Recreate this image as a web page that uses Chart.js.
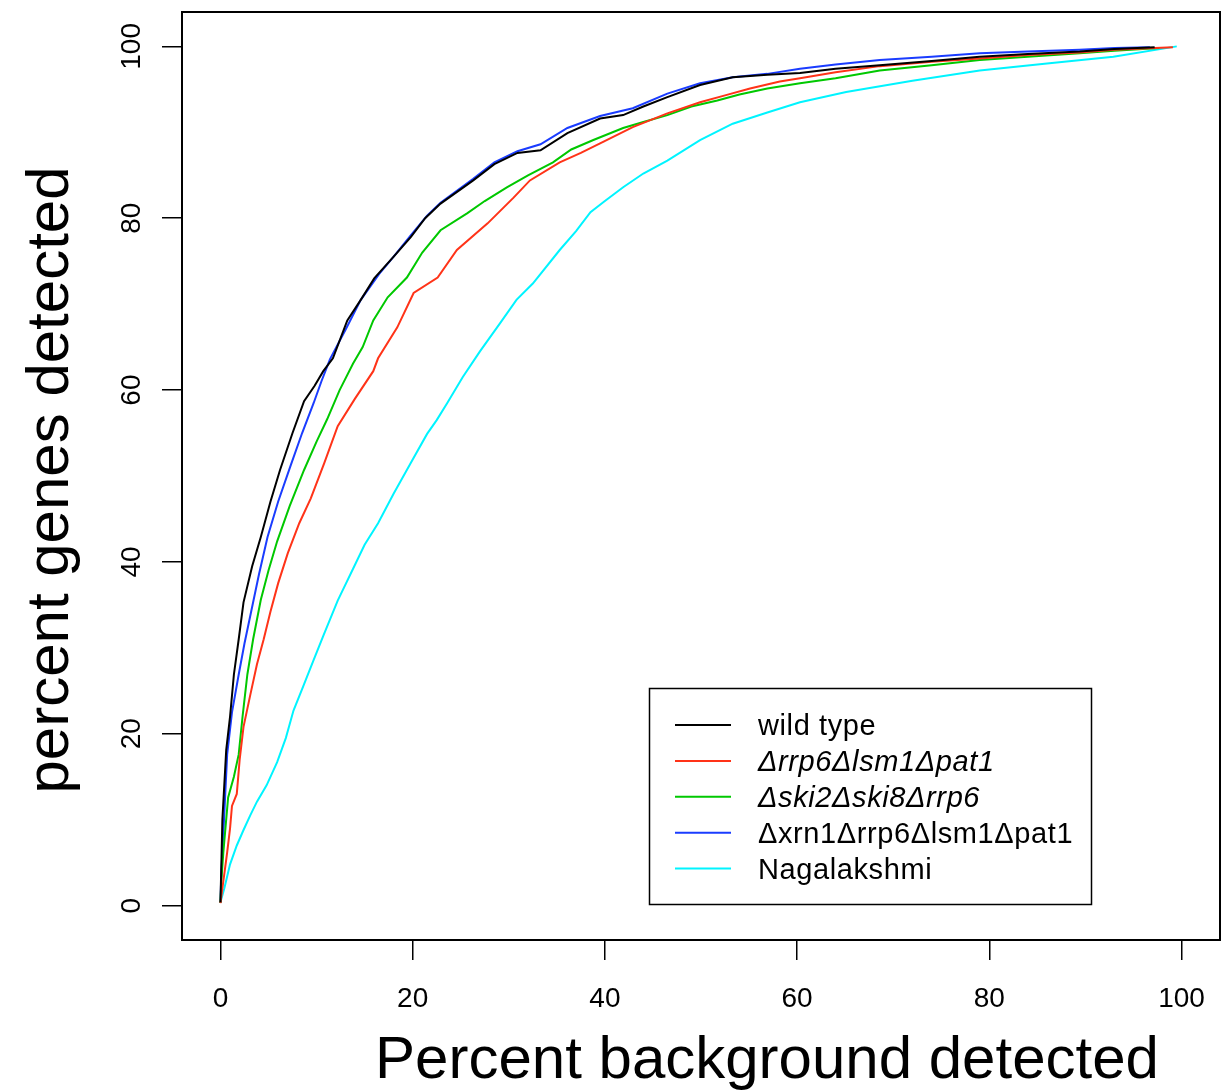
<!DOCTYPE html>
<html>
<head>
<meta charset="utf-8">
<title>Percent genes detected vs. percent background detected</title>
<script src="https://cdn.jsdelivr.net/npm/chart.js@4.4.1/dist/chart.umd.min.js"></script>
<style>
  html, body { margin: 0; padding: 0; background: #ffffff; }
  #wrap { width: 1232px; height: 1091px; }
</style>
</head>
<body>
<div id="wrap"><canvas id="c" width="1232" height="1091"></canvas></div>
<script>
// Cumulative detection curves: x = percent background detected, y = percent genes detected
const seriesNames = [
  'wild type',
  '\u0394rrp6\u0394lsm1\u0394pat1',
  '\u0394ski2\u0394ski8\u0394rrp6',
  '\u0394xrn1\u0394rrp6\u0394lsm1\u0394pat1',
  'Nagalakshmi'
];
const seriesItalic = [false, true, true, false, false];
const seriesColors = ['#000000', '#ff3318', '#00c800', '#1a3cff', '#00f4ff'];

const wildTypeX = [0, 0.1, 0.2, 0.35, 0.6, 1.0, 1.4, 1.9, 2.4, 3.3, 4.2, 5.2, 6.2, 7.5, 8.7, 9.8, 10.7, 11.7, 13.2, 14.6, 16, 18, 19.8, 21.3, 22.9, 26.3, 28.5, 30.9, 33.3, 36.1, 39.5, 41.9, 44, 46.5, 49.9, 53.3, 56.9, 60.3, 64, 68.6, 74, 79, 84, 89.4, 93, 97.2];
const wildTypeY = [0.4, 5, 10, 13, 18.1, 22, 26.9, 31, 35.3, 39.5, 42.9, 47, 50.7, 55, 58.7, 60.5, 62.2, 63.7, 68.1, 70.5, 73, 75.5, 77.8, 80, 81.7, 84.4, 86.3, 87.6, 87.9, 89.9, 91.6, 92.0, 93, 94.1, 95.5, 96.4, 96.7, 96.9, 97.4, 97.8, 98.3, 98.8, 99.1, 99.4, 99.7, 99.9];

const rrp6lsm1pat1X = [0, 0.2, 0.5, 0.7, 1.0, 1.2, 1.7, 2.0, 2.4, 3.1, 3.8, 4.5, 5.2, 6.0, 7.0, 8.2, 9.4, 10.8, 12.2, 14, 15.9, 16.4, 18.4, 20.1, 22.6, 24.6, 27.8, 30.5, 32.2, 35.3, 37.5, 39.5, 42.9, 46.5, 49.9, 52.5, 55.1, 58.2, 60.3, 64, 68.6, 74, 79, 84, 89.4, 93, 99.1];
const rrp6lsm1pat1Y = [0.3, 2, 4.5, 6.2, 9, 11.6, 13, 17, 20.8, 24.5, 28.1, 31, 34.2, 37.5, 41.0, 44.5, 47.4, 51.5, 55.8, 59, 62.2, 63.7, 67.3, 71.3, 73.1, 76.3, 79.4, 82.4, 84.4, 86.5, 87.6, 88.7, 90.6, 92.2, 93.5, 94.3, 95.1, 95.9, 96.3, 97, 97.7, 98.2, 98.6, 99.0, 99.3, 99.6, 99.9];

const ski2ski8rrp6X = [0, 0.1, 0.3, 0.8, 1.4, 1.9, 2.3, 2.8, 3.4, 4.2, 5.0, 5.9, 7.2, 8.7, 10, 11.1, 12.4, 13.8, 14.8, 15.9, 17.4, 19.4, 21, 22.9, 25.7, 27.5, 29.8, 32, 34.6, 36.5, 38.8, 41.9, 44, 46.5, 49, 51.7, 54, 56.9, 60.3, 64, 68.6, 74, 79, 84, 89.4, 93, 97.7];
const ski2ski8rrp6Y = [0.3, 3, 6.2, 12.6, 15, 17.6, 22, 26.9, 31, 35.6, 39, 42.4, 46.5, 50.7, 54, 56.6, 60, 63.1, 65, 68.1, 70.8, 73.1, 76, 78.6, 80.6, 82, 83.6, 85, 86.5, 88, 89.1, 90.5, 91.2, 92.0, 93, 93.7, 94.4, 95.1, 95.7, 96.3, 97.2, 97.8, 98.4, 98.8, 99.2, 99.5, 99.8];

const xrn1rrp6lsm1pat1X = [0, 0.1, 0.3, 0.5, 0.7, 1.2, 1.9, 2.5, 3.1, 4.0, 4.9, 6.0, 7.3, 8.5, 9.7, 10.5, 11.4, 13, 14.6, 16.5, 18, 19.8, 21.5, 22.9, 26.3, 28.5, 30.9, 33.3, 36.1, 39.5, 42.9, 46.5, 49.9, 53.3, 56.9, 60.3, 64, 68.6, 74, 79, 84, 89.4, 93, 96.7];
const xrn1rrp6lsm1pat1Y = [0.3, 4, 8.4, 13, 17.6, 22.5, 26.9, 30.5, 33.7, 38.5, 42.9, 47, 51.2, 55, 58.5, 61, 63.6, 67, 70.5, 73.5, 75.5, 78, 80.3, 81.8, 84.6, 86.5, 87.8, 88.6, 90.5, 91.9, 92.8, 94.5, 95.7, 96.4, 96.8, 97.4, 97.9, 98.4, 98.8, 99.2, 99.4, 99.6, 99.8, 99.9];

const nagalakshmiX = [0, 0.4, 1.0, 1.7, 2.4, 3.1, 3.8, 4.8, 5.9, 6.8, 7.6, 8.6, 9.7, 10.7, 12.2, 13.8, 15.0, 16.4, 18, 19.8, 21.5, 22.5, 23.6, 25.2, 27, 29.1, 30.8, 32.5, 35.3, 37, 38.5, 40, 41.9, 44, 46.5, 49.9, 53.3, 56.9, 60.3, 65.1, 72, 79, 86, 92.9, 99.5];
const nagalakshmiY = [0.4, 2, 4.8, 7, 8.8, 10.5, 12.1, 14, 16.7, 19.5, 22.7, 25.5, 28.6, 31.4, 35.5, 39.2, 42, 44.5, 47.9, 51.5, 54.9, 56.5, 58.5, 61.5, 64.5, 67.8, 70.5, 72.4, 76.3, 78.5, 80.7, 82, 83.6, 85.2, 86.7, 89.1, 91, 92.3, 93.5, 94.7, 96.0, 97.2, 98.0, 98.8, 100];

const xTickValues = [0, 20, 40, 60, 80, 100];
const yTickValues = [0, 20, 40, 60, 80, 100];
const xTitle = 'Percent background detected';
const yTitle = 'percent genes detected';

const seriesX = [wildTypeX, rrp6lsm1pat1X, ski2ski8rrp6X, xrn1rrp6lsm1pat1X, nagalakshmiX];
const seriesY = [wildTypeY, rrp6lsm1pat1Y, ski2ski8rrp6Y, xrn1rrp6lsm1pat1Y, nagalakshmiY];

const FONT = '"Liberation Sans", Arial, Helvetica, sans-serif';

const datasets = seriesNames.map((name, i) => ({
  label: name,
  data: seriesX[i].map((x, j) => ({ x: x, y: seriesY[i][j] })),
  borderColor: seriesColors[i],
  backgroundColor: seriesColors[i],
  borderWidth: 2,
  pointRadius: 0,
  showLine: true,
  tension: 0,
  fill: false
}));

// Box around the plot region, axis labels, titles and the framed legend
const framePlugin = {
  id: 'frame',
  afterDraw(chart) {
    const ctx = chart.ctx;
    const area = chart.chartArea;
    const xs = chart.scales.x;
    const ys = chart.scales.y;
    ctx.save();

    ctx.strokeStyle = '#000';
    ctx.lineWidth = 2;
    ctx.strokeRect(area.left, area.top, area.right - area.left, area.bottom - area.top);

    ctx.fillStyle = '#000';
    ctx.font = '28px ' + FONT;
    ctx.textAlign = 'center';
    ctx.textBaseline = 'alphabetic';
    xTickValues.forEach(v => {
      ctx.fillText(String(v), xs.getPixelForValue(v), 1007);
    });
    yTickValues.forEach(v => {
      ctx.save();
      ctx.translate(140, ys.getPixelForValue(v));
      ctx.rotate(-Math.PI / 2);
      ctx.fillText(String(v), 0, 0);
      ctx.restore();
    });

    ctx.font = '60px ' + FONT;
    ctx.fillText(xTitle, 767, 1078);
    ctx.save();
    ctx.translate(68, (area.top + area.bottom) / 2 + 4);
    ctx.rotate(-Math.PI / 2);
    ctx.fillText(yTitle, 0, 0);
    ctx.restore();

    // legend
    const lx = 649, ly = 688, lw = 442, lh = 216;
    ctx.fillStyle = '#fff';
    ctx.fillRect(lx, ly, lw, lh);
    ctx.strokeStyle = '#000';
    ctx.lineWidth = 1.5;
    ctx.strokeRect(lx + 0.5, ly + 0.5, lw, lh);
    chart.data.datasets.forEach((ds, i) => {
      const cy = 725 + i * 35.9;
      ctx.strokeStyle = ds.borderColor;
      ctx.lineWidth = 2;
      ctx.beginPath();
      ctx.moveTo(675, cy);
      ctx.lineTo(731, cy);
      ctx.stroke();
      ctx.fillStyle = '#000';
      ctx.textAlign = 'left';
      ctx.font = (seriesItalic[i] ? 'italic ' : '') + '29px ' + FONT;
      if ('letterSpacing' in ctx) ctx.letterSpacing = '0.6px';
      ctx.fillText(ds.label, 758, cy + 10);
      if ('letterSpacing' in ctx) ctx.letterSpacing = '0px';
    });

    ctx.restore();
  }
};

new Chart(document.getElementById('c'), {
  type: 'scatter',
  data: { datasets: datasets },
  options: {
    responsive: false,
    animation: false,
    devicePixelRatio: 1,
    layout: { padding: { top: 12, right: 12, left: 0, bottom: 0 } },
    plugins: {
      legend: { display: false },
      tooltip: { enabled: false },
      title: { display: false }
    },
    scales: {
      x: {
        type: 'linear',
        min: -4,
        max: 104,
        afterBuildTicks: s => { s.ticks = xTickValues.map(v => ({ value: v })); },
        afterFit: s => { s.height = 151; },
        grid: { drawOnChartArea: false, drawTicks: true, tickLength: 20, color: '#000', lineWidth: 1.5 },
        border: { display: false },
        ticks: { display: false }
      },
      y: {
        type: 'linear',
        min: -4,
        max: 104,
        afterBuildTicks: s => { s.ticks = yTickValues.map(v => ({ value: v })); },
        afterFit: s => { s.width = 182; },
        grid: { drawOnChartArea: false, drawTicks: true, tickLength: 20, color: '#000', lineWidth: 1.5 },
        border: { display: false },
        ticks: { display: false }
      }
    }
  },
  plugins: [framePlugin]
});
</script>
</body>
</html>
